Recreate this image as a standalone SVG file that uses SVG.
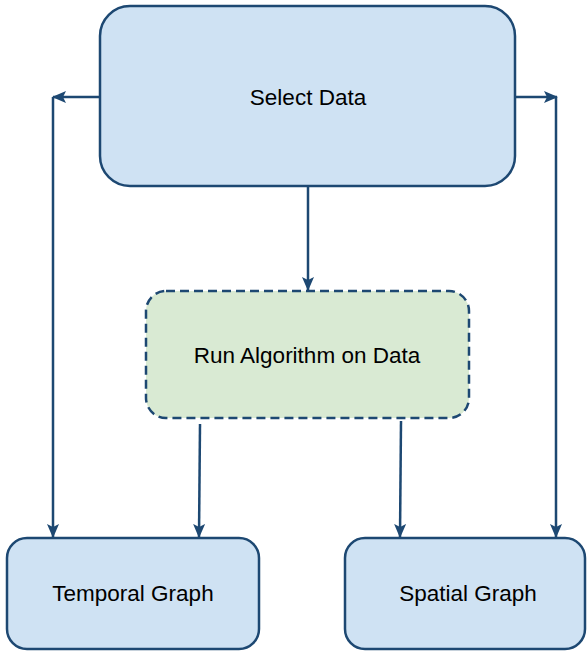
<svg xmlns="http://www.w3.org/2000/svg" width="587" height="652" viewBox="0 0 587 652">
<style>
.box{fill:#cfe2f3;stroke:#1d4872;stroke-width:2.5}
.dash{fill:#d9ead3;stroke:#1d4872;stroke-width:2.5;stroke-dasharray:9 5}
.lbl{font-family:"Liberation Sans",Arial,sans-serif;font-size:22.5px;fill:#000;text-anchor:middle;dominant-baseline:central}
.c{fill:none;stroke:#1d4872;stroke-width:2.5}
</style>
<defs>
<marker id="ah" markerWidth="14" markerHeight="12" refX="13" refY="6" orient="auto" markerUnits="userSpaceOnUse">
<path d="M0,0 L14,6 L0,12 L3,6 z" fill="#1d4872"/>
</marker>
</defs>
<rect width="587" height="652" fill="#fff"/>
<g id="connectors">
<polyline class="c" points="100,97 53,97" marker-end="url(#ah)"/>
<line class="c" x1="53" y1="97" x2="53" y2="537" marker-end="url(#ah)"/>
<polyline class="c" points="515,97 557,97" marker-end="url(#ah)"/>
<line class="c" x1="556" y1="97" x2="556" y2="537" marker-end="url(#ah)"/>
<line class="c" x1="308" y1="186" x2="308" y2="290" marker-end="url(#ah)"/>
<line class="c" x1="200" y1="424" x2="199" y2="537" marker-end="url(#ah)"/>
<line class="c" x1="401" y1="421" x2="400" y2="537" marker-end="url(#ah)"/>
</g>
<g id="select-data">
<rect class="box" x="100" y="6" width="415" height="180" rx="30"/>
<text class="lbl" x="308" y="97">Select Data</text>
</g>
<g id="run-algorithm">
<rect class="dash" x="146" y="291" width="323" height="127" rx="20"/>
<text class="lbl" x="307" y="355">Run Algorithm on Data</text>
</g>
<g id="temporal-graph">
<rect class="box" x="7" y="538" width="252" height="111" rx="20"/>
<text class="lbl" x="133" y="593">Temporal Graph</text>
</g>
<g id="spatial-graph">
<rect class="box" x="345" y="538" width="240" height="111" rx="20"/>
<text class="lbl" x="468" y="593">Spatial Graph</text>
</g>
</svg>
